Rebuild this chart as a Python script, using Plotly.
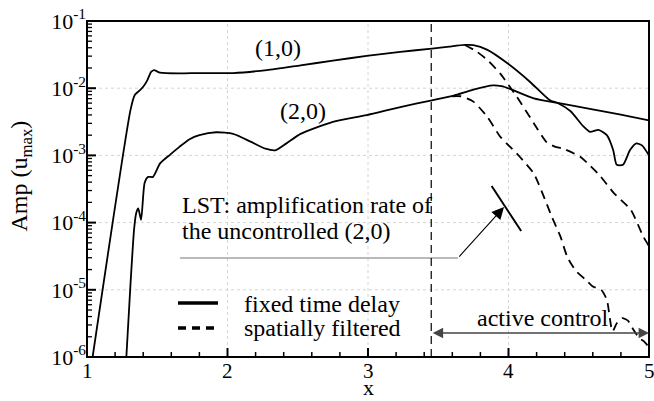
import plotly.graph_objects as go

SERIF = "Liberation Serif, Times New Roman, serif"

# (1,0) mode, fixed time delay control
x10_fixed = [1.04, 1.31, 1.34, 1.377, 1.40, 1.43, 1.455, 1.477, 1.52, 1.66, 1.80, 2.04, 2.28,
             2.52, 2.75, 2.99, 3.23, 3.455, 3.58, 3.69, 3.75, 3.85, 3.99, 4.15, 4.295, 4.35,
             4.44, 4.53, 4.58, 4.64, 4.70, 4.745, 4.77, 4.815, 4.865, 4.91, 4.95, 5.0]
a10_fixed = [1.0e-6, 4.79e-3, 7.94e-3, 9.33e-3, 1.05e-2, 1.32e-2, 1.74e-2, 1.86e-2, 1.70e-2,
             1.66e-2, 1.68e-2, 1.68e-2, 1.86e-2, 2.19e-2, 2.57e-2, 3.02e-2, 3.47e-2, 3.89e-2,
             4.17e-2, 4.40e-2, 4.37e-2, 3.72e-2, 2.37e-2, 1.26e-2, 6.61e-3, 6.03e-3, 4.57e-3,
             2.75e-3, 2.24e-3, 2.40e-3, 2.00e-3, 1.20e-3, 7.24e-4, 7.24e-4, 1.20e-3, 1.51e-3,
             1.41e-3, 1.0e-3]

# (2,0) mode, fixed time delay control
x20_fixed = [1.28, 1.31, 1.335, 1.35, 1.365, 1.385, 1.41, 1.435, 1.47, 1.52, 1.59, 1.66, 1.73,
             1.80, 1.92, 2.04, 2.16, 2.27, 2.34, 2.42, 2.52, 2.75, 2.99, 3.23, 3.455, 3.61,
             3.75, 3.89, 3.95, 4.01, 4.18, 4.35, 4.56, 4.79, 5.0]
a20_fixed = [1.0e-6, 1.26e-5, 7.9e-5, 1.38e-4, 1.62e-4, 1.10e-4, 3.89e-4, 4.79e-4, 4.79e-4,
             7.6e-4, 1.02e-3, 1.35e-3, 1.74e-3, 2.0e-3, 2.21e-3, 2.09e-3, 1.62e-3, 1.26e-3,
             1.19e-3, 1.51e-3, 2.09e-3, 3.16e-3, 3.98e-3, 5.25e-3, 6.61e-3, 7.76e-3, 9.55e-3,
             1.10e-2, 1.07e-2, 9.77e-3, 7.08e-3, 6.03e-3, 5.01e-3, 4.07e-3, 3.31e-3]

# (1,0) mode, spatially filtered control
x10_filt = [3.69, 3.77, 3.85, 3.94, 4.06, 4.18, 4.27, 4.33, 4.39, 4.51, 4.58, 4.65, 4.75,
            4.87, 4.96, 5.0]
a10_filt = [4.40e-2, 3.55e-2, 2.63e-2, 1.66e-2, 7.41e-3, 3.02e-3, 1.58e-3, 1.35e-3, 1.26e-3,
            9.55e-4, 7.08e-4, 5.01e-4, 2.75e-4, 1.55e-4, 6.17e-5, 4.47e-5]

# (2,0) mode, spatially filtered control
x20_filt = [3.60, 3.66, 3.75, 3.85, 3.94, 4.01, 4.08, 4.18, 4.26, 4.31, 4.37, 4.42, 4.48,
            4.55, 4.60, 4.66, 4.70, 4.74, 4.77, 4.81, 4.85, 4.885, 4.93, 4.96, 5.0]
a20_filt = [7.59e-3, 7.59e-3, 6.31e-3, 3.72e-3, 1.91e-3, 1.35e-3, 9.55e-4, 5.37e-4, 2.19e-4,
            1.20e-4, 6.17e-5, 3.02e-5, 1.91e-5, 1.41e-5, 1.12e-5, 1.0e-5, 7.08e-6, 2.40e-6,
            3.16e-6, 3.80e-6, 3.47e-6, 2.63e-6, 1.91e-6, 1.74e-6, 1.41e-6]

# linear stability theory slope indicator for the uncontrolled (2,0) mode
x_lst = [3.88, 4.09]
a_lst = [3.5e-4, 7.5e-5]

# start of the active control region
x_control = 3.45

y_tickvals = [1e-6, 1e-5, 1e-4, 1e-3, 1e-2, 1e-1]
y_ticktext = ["10<sup>-6</sup>", "10<sup>-5</sup>", "10<sup>-4</sup>", "10<sup>-3</sup>",
              "10<sup>-2</sup>", "10<sup>-1</sup>"]
x_tickvals = [1, 2, 3, 4, 5]
x_ticktext = ["1", "2", "3", "4", "5"]

# plot-area size in px (used to express tick lengths in paper units)
PLOT_W, PLOT_H = 562, 336
MAJOR_LEN, MINOR_LEN = 9, 5

fig = go.Figure()

solid = dict(color="black", width=1.8, shape="spline", smoothing=0.6)
dashed = dict(color="black", width=1.8, shape="spline", smoothing=0.6, dash="9px,6px")

fig.add_trace(go.Scatter(x=x10_fixed, y=a10_fixed, mode="lines", line=solid, showlegend=False))
fig.add_trace(go.Scatter(x=x20_fixed, y=a20_fixed, mode="lines", line=solid, showlegend=False))
fig.add_trace(go.Scatter(x=x10_filt, y=a10_filt, mode="lines", line=dashed, showlegend=False))
fig.add_trace(go.Scatter(x=x20_filt, y=a20_filt, mode="lines", line=dashed, showlegend=False))
fig.add_trace(go.Scatter(x=x_lst, y=a_lst, mode="lines",
                         line=dict(color="black", width=2), showlegend=False))

# leader line from the LST label to the slope indicator
lead_y = 10 ** -4.527
fig.add_trace(go.Scatter(x=[1.662, 3.64], y=[lead_y, lead_y], mode="lines",
                         line=dict(color="#777777", width=1.2), showlegend=False))

# faint dotted grid
for v in x_tickvals[1:-1]:
    fig.add_shape(type="line", xref="x", yref="paper", x0=v, x1=v, y0=0, y1=1, layer="below",
                  line=dict(color="#d4d4d4", width=1, dash="dot"))
for v in y_tickvals[1:-1]:
    fig.add_shape(type="line", xref="paper", yref="y", x0=0, x1=1, y0=v, y1=v, layer="below",
                  line=dict(color="#d4d4d4", width=1, dash="dot"))

fig.add_shape(type="line", xref="x", yref="paper", x0=x_control, x1=x_control, y0=0, y1=1,
              line=dict(color="black", width=1.2, dash="8px,5px"))

# inside tick marks: x along the bottom, y along the left
for v in x_tickvals:
    fig.add_shape(type="line", xref="x", yref="paper", x0=v, x1=v, y0=0,
                  y1=MAJOR_LEN / PLOT_H, line=dict(color="black", width=2))
for i in range(1, 20):
    v = 1 + 0.2 * i
    if i % 5:
        fig.add_shape(type="line", xref="x", yref="paper", x0=v, x1=v, y0=0,
                      y1=MINOR_LEN / PLOT_H, line=dict(color="black", width=1.5))
for v in y_tickvals:
    fig.add_shape(type="line", xref="paper", yref="y", x0=0, x1=MAJOR_LEN / PLOT_W,
                  y0=v, y1=v, line=dict(color="black", width=2))
for v in y_tickvals[:-1]:
    for m in range(2, 10):
        fig.add_shape(type="line", xref="paper", yref="y", x0=0, x1=MINOR_LEN / PLOT_W,
                      y0=m * v, y1=m * v, line=dict(color="black", width=1.3))

# plot frame
fig.add_shape(type="rect", xref="paper", yref="paper", x0=0, x1=1, y0=0, y1=1,
              line=dict(color="black", width=2), layer="above")

font_ann = dict(family=SERIF, size=24, color="black")
annotations = [
    dict(x=2.36, y=-1.40, text="(1,0)", showarrow=False, font=font_ann),
    dict(x=2.54, y=-2.34, text="(2,0)", showarrow=False, font=font_ann),
    dict(x=1.66, y=-3.74, text="LST: amplification rate of", showarrow=False,
         xanchor="left", yanchor="middle", font=font_ann),
    dict(x=1.66, y=-4.13, text="the uncontrolled (2,0)", showarrow=False,
         xanchor="left", yanchor="middle", font=font_ann),
    dict(x=4.245, y=-5.42, text="active control", showarrow=False, font=font_ann),
    # pointer to the LST slope
    dict(x=3.968, y=-3.768, ax=3.64, ay=-4.527, axref="x", ayref="y", text="",
         showarrow=True, arrowhead=2, arrowsize=2.2, arrowwidth=1.1, arrowcolor="black",
         standoff=0, startstandoff=0),
    # extent of the active control region
    dict(x=5.0, y=-5.643, ax=x_control, ay=-5.643, axref="x", ayref="y", text="",
         showarrow=True, arrowhead=2, startarrowhead=2, arrowside="end+start",
         arrowsize=1.6, startarrowsize=1.6, arrowwidth=1.3, arrowcolor="#444444",
         standoff=0, startstandoff=0),
    # axis titles
    dict(xref="paper", yref="paper", x=-0.118, y=0.539, text="Amp (u<sub>max</sub>)",
         textangle=-90, showarrow=False, xanchor="center", yanchor="middle", font=font_ann),
    dict(x=3.0, xref="x", yref="paper", y=-0.092, text="x", showarrow=False,
         xanchor="center", yanchor="middle",
         font=dict(family=SERIF, size=22, color="black")),
    # legend labels
    dict(xref="paper", yref="paper", x=(242 - 87) / PLOT_W, y=(357 - 304) / PLOT_H,
         text="fixed time delay", xanchor="left", yanchor="middle", showarrow=False,
         font=font_ann),
    dict(xref="paper", yref="paper", x=(242 - 87) / PLOT_W, y=(357 - 328) / PLOT_H,
         text="spatially filtered", xanchor="left", yanchor="middle", showarrow=False,
         font=font_ann),
]

# x tick labels, placed just under the axis
for v, t in zip(x_tickvals, x_ticktext):
    annotations.append(dict(x=v, xref="x", yref="paper", y=-14 / PLOT_H, text=t,
                            xanchor="center", yanchor="middle", showarrow=False,
                            font=dict(family=SERIF, size=21, color="black")))

# legend line samples
fig.add_shape(type="line", xref="paper", yref="paper",
              x0=(178 - 87) / PLOT_W, x1=(218 - 87) / PLOT_W,
              y0=(357 - 303) / PLOT_H, y1=(357 - 303) / PLOT_H,
              line=dict(color="black", width=3.5))
fig.add_shape(type="line", xref="paper", yref="paper",
              x0=(178 - 87) / PLOT_W, x1=(218 - 87) / PLOT_W,
              y0=(357 - 328) / PLOT_H, y1=(357 - 328) / PLOT_H,
              line=dict(color="black", width=3.5, dash="8px,6px"))

fig.update_layout(
    width=654, height=401,
    margin=dict(l=87, r=5, t=21, b=44, autoexpand=False),
    paper_bgcolor="white", plot_bgcolor="white",
    annotations=annotations,
    showlegend=False,
    xaxis=dict(
        range=[1, 5], tickvals=x_tickvals, showticklabels=False, automargin=False,
        ticks="", showline=False, showgrid=False, zeroline=False,
    ),
    yaxis=dict(
        type="log", range=[-6, -1], tickvals=y_tickvals, ticktext=y_ticktext,
        automargin=False, ticks="", showline=False, showgrid=False, zeroline=False,
        tickfont=dict(family=SERIF, size=22, color="black"),
    ),
)

fig.write_html("out.html")
